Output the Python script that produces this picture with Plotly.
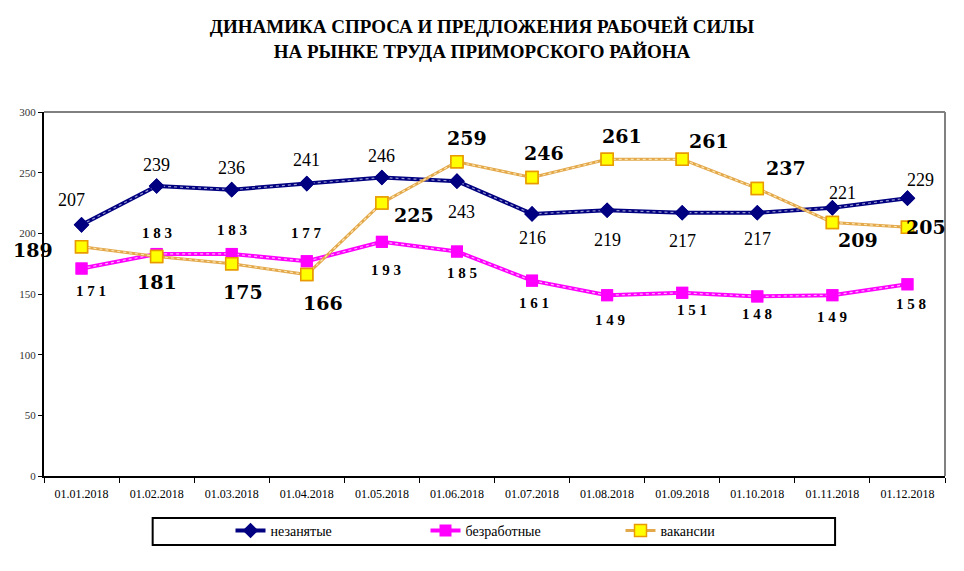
import plotly.graph_objects as go

dates = ['01.01.2018', '01.02.2018', '01.03.2018', '01.04.2018', '01.05.2018', '01.06.2018',
         '01.07.2018', '01.08.2018', '01.09.2018', '01.10.2018', '01.11.2018', '01.12.2018']
nezanyatye = [207, 239, 236, 241, 246, 243, 216, 219, 217, 217, 221, 229]
bezrabotnye = [171, 183, 183, 177, 193, 185, 161, 149, 151, 148, 149, 158]
vakansii = [189, 181, 175, 166, 225, 259, 246, 261, 261, 237, 209, 205]

# label offsets (xshift, yshift) in px, per point
off_nez = [(-10, 25), (0, 21), (0, 22), (0, 24), (0, 22), (5, -31),
           (0, -24), (0, -30), (0, -28), (0, -26), (10, 15), (13, 18)]
off_bez = [(9, -22), (0, 21), (0, 24), (0, 28), (4, -28), (5, -21),
           (2, -22), (3, -25), (10, -17), (0, -18), (0, -22), (4, -20)]
off_vak = [(-49, -3), (0, -26), (11, -28), (16, -28), (32, -12), (10, 24),
           (12, 25), (15, 23), (27, 18), (29, 20), (26, -18), (19, 0)]

SERIF = 'Liberation Serif, Times New Roman, serif'

fig = go.Figure()


def add_series(y, name, color, width, dots, marker):
    # line + marker (this one goes to the legend)
    fig.add_trace(go.Scatter(
        x=dates, y=y, name=name, mode='lines+markers',
        line=dict(color=color, width=width), marker=marker))
    # light dotted core to imitate the Excel texture
    fig.add_trace(go.Scatter(
        x=dates, y=y, name=name, mode='lines', showlegend=False, hoverinfo='skip',
        line=dict(color=dots, width=1.2, dash='dot')))
    # markers again on top of the dotted core
    fig.add_trace(go.Scatter(
        x=dates, y=y, name=name, mode='markers', showlegend=False, hoverinfo='skip',
        marker=marker))


add_series(nezanyatye, 'незанятые', '#000080', 4, '#9A9ACF',
           dict(symbol='diamond', size=12, color='#000080'))
add_series(bezrabotnye, 'безработные', '#FF00FF', 4, '#FFB0FF',
           dict(symbol='square', size=12, color='#FF00FF'))
add_series(vakansii, 'вакансии', '#E3A84A', 3, '#FBE3B0',
           dict(symbol='square', size=12, color='#FFFF00',
                line=dict(color='#E89A00', width=1.5)))

ann = []
for d, v, (dx, dy) in zip(dates, nezanyatye, off_nez):
    ann.append(dict(x=d, y=v, text=str(v), showarrow=False,
                    xshift=dx, yshift=dy,
                    font=dict(family=SERIF, size=18, color='black')))
for d, v, (dx, dy) in zip(dates, bezrabotnye, off_bez):
    ann.append(dict(x=d, y=v, text='<b>' + ' '.join(str(v)) + '</b>', showarrow=False,
                    xshift=dx, yshift=dy,
                    font=dict(family=SERIF, size=15, color='black')))
for d, v, (dx, dy) in zip(dates, vakansii, off_vak):
    ann.append(dict(x=d, y=v, text='<b>' + str(v) + '</b>', showarrow=False,
                    xshift=dx, yshift=dy,
                    font=dict(family='DejaVu Serif', size=19, color='black')))

fig.update_layout(
    width=948, height=555,
    margin=dict(l=33, r=11, t=104, b=87),
    paper_bgcolor='white', plot_bgcolor='white',
    title=dict(text='<b>ДИНАМИКА СПРОСА И ПРЕДЛОЖЕНИЯ РАБОЧЕЙ СИЛЫ<br>НА РЫНКЕ ТРУДА ПРИМОРСКОГО РАЙОНА</b>',
               x=0.5, xanchor='center', y=0.955, yanchor='top',
               font=dict(family=SERIF, size=19, color='black')),
    annotations=ann,
    showlegend=True,
    legend=dict(orientation='h', x=0.207, xanchor='left', y=-0.151, yanchor='middle',
                bgcolor='rgba(0,0,0,0)', borderwidth=0,
                entrywidth=150, entrywidthmode='pixels',
                font=dict(family=SERIF, size=14, color='black')),
    shapes=[
        dict(type='line', xref='x domain', yref='y domain', x0=0, x1=1, y0=1, y1=1,
             line=dict(color='#808080', width=2)),
        dict(type='line', xref='x domain', yref='y domain', x0=1, x1=1, y0=0, y1=1,
             line=dict(color='#808080', width=2)),
        # legend frame
        dict(type='rect', xref='paper', yref='paper', x0=0.1206, x1=0.878,
             y0=-0.1896, y1=-0.1154, line=dict(color='black', width=2), layer='below'),
    ],
)

fig.update_xaxes(
    type='category', range=[-0.5, 11.5], tickson='boundaries', ticks='outside',
    ticklen=5, tickcolor='black', ticklabelstandoff=6,
    showline=True, linecolor='black', linewidth=2, showgrid=False,
    tickfont=dict(family=SERIF, size=12, color='black'))
fig.update_yaxes(
    range=[0, 300], dtick=50, ticks='outside', ticklen=4, tickcolor='black',
    showline=True, linecolor='black', linewidth=2, showgrid=False, zeroline=False,
    tickfont=dict(family=SERIF, size=11, color='#333333'))

fig.write_html('out.html')
